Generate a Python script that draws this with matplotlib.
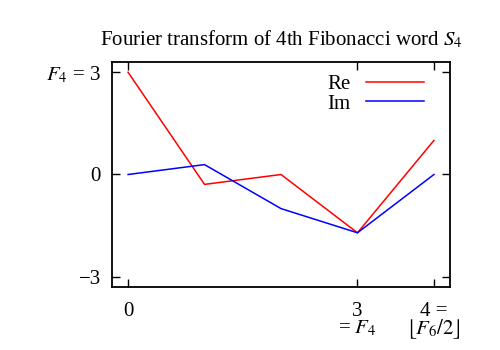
import matplotlib
matplotlib.use("Agg")
import matplotlib.pyplot as plt

plt.rcParams['font.family'] = ['Liberation Serif', 'DejaVu Serif']
plt.rcParams['mathtext.fontset'] = 'stix'

k = [0, 1, 2, 3, 4]
re_vals = [3, -0.29, 0, -1.71, 1]
im_vals = [0, 0.29, -1, -1.71, 0]
xticks = [0, 3, 4]
xticklabels = ["0", "3\n= $F_4$", "4 =\n$\\lfloor F_6/2\\rfloor$"]
yticks = [3, 0, -3]
yticklabels = ["$F_4$ = 3", "0", "\u22123"]
title = "Fourier transform of 4th Fibonacci word $S_4$"

fs = 15
fig = plt.figure(figsize=(5, 3.5), dpi=100)
ax = fig.add_axes([112/500, 1-287/350, (450-112)/500, (287-62)/350])
ax.plot(k, re_vals, color='#ff0000', lw=1.1, label='Re')
ax.plot(k, im_vals, color='#0000ff', lw=1.1, label='Im')
ax.set_xlim(-0.21, 4.21)
ax.set_ylim(-3.3, 3.3)
ax.set_xticks(xticks)
ax.set_xticklabels(xticklabels, fontsize=fs, linespacing=0.8)
ax.set_yticks(yticks)
ax.set_yticklabels(yticklabels, fontsize=fs)
ax.tick_params(direction='in', length=6, width=1, top=True, right=True)
ax.tick_params(axis='x', pad=11)
ax.tick_params(axis='y', pad=8)
for s in ax.spines.values():
    s.set_linewidth(1.3)
ax.set_title(title, fontsize=fs, pad=12)
leg = ax.legend(loc='upper right', bbox_to_anchor=(1 - 13/338, 1), frameon=False,
                markerfirst=False, fontsize=fs,
                handlelength=2.8, handletextpad=0.75, borderaxespad=0.2, labelspacing=0.0)
fig.savefig("out.png", dpi=100)
